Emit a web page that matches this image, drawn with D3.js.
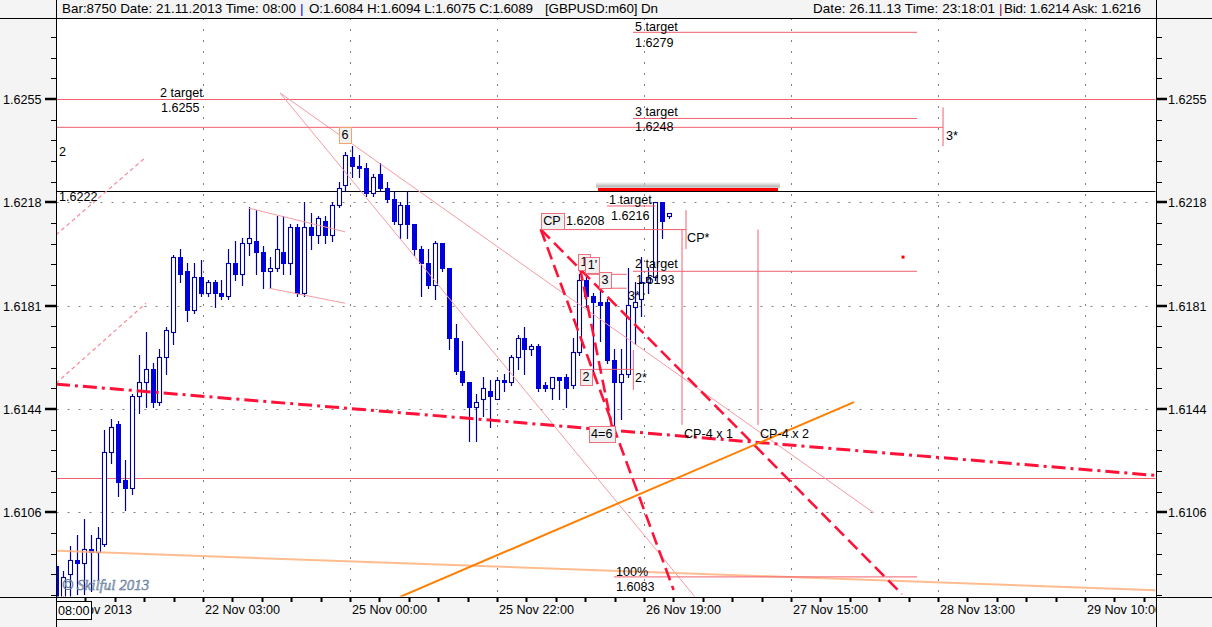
<!DOCTYPE html>
<html><head><meta charset="utf-8">
<script src="https://cdn.jsdelivr.net/npm/d3@7/dist/d3.min.js"></script>
<style>
html,body{margin:0;padding:0;background:#f4f4f4;overflow:hidden}
svg{display:block}
text{font-family:"Liberation Sans",Arial,sans-serif;font-size:12.6px;fill:#000}
</style></head><body>
<svg id="chart" width="1212" height="627"></svg>
<script>
// ---------- DATA ----------
const firstBar = -2; // bar index of first candle (bar 0 = 21 Nov 2013 08:00)
const opens  = [1.6087,1.6075,1.6084,1.6089,1.6088,1.6093,1.6092,1.6095,1.6128,1.6138,1.6118,1.6115,1.6148,1.6153,1.6158,1.6146,1.6162,1.6171,1.6198,1.6193,1.6179,1.6191,1.6185,1.6189,1.6185,1.6184,1.6196,1.6192,1.6203,1.6204,1.6200,1.6193,1.6194,1.6200,1.6196,1.6209,1.6185,1.6209,1.6206,1.6211,1.6206,1.6217,1.6224,1.6234,1.6231,1.6230,1.6221,1.6228,1.6223,1.6219,1.6210,1.6217,1.6210,1.6201,1.6196,1.6188,1.6203,1.6194,1.6169,1.6157,1.6153,1.6144,1.6147,1.6150,1.6147,1.6154,1.6153,1.6162,1.6169,1.6165,1.6166,1.6152,1.6151,1.6155,1.6155,1.6152,1.6164,1.6190,1.6184,1.6182,1.6182,1.6161,1.6153,1.6156,1.6180,1.6183,1.6189,1.6191,1.6218,1.6213];
const highs  = [1.6088,1.6085,1.6094,1.6098,1.6104,1.6098,1.6101,1.6136,1.6140,1.6139,1.6125,1.6149,1.6163,1.6171,1.6160,1.6165,1.6173,1.6199,1.6201,1.6196,1.6196,1.6197,1.6190,1.6190,1.6190,1.6201,1.6204,1.6205,1.6216,1.6215,1.6202,1.6198,1.6213,1.6213,1.6210,1.6210,1.6218,1.6214,1.6213,1.6213,1.6218,1.6225,1.6236,1.6238,1.6235,1.6232,1.6228,1.6232,1.6225,1.6222,1.6218,1.6222,1.6210,1.6202,1.6201,1.6204,1.6203,1.6194,1.6174,1.6168,1.6153,1.6149,1.6155,1.6154,1.6155,1.6156,1.6163,1.6170,1.6173,1.6167,1.6167,1.6153,1.6155,1.6155,1.6156,1.6169,1.6192,1.6192,1.6185,1.6186,1.6183,1.6165,1.6165,1.6194,1.6189,1.6198,1.6194,1.6218,1.6218,1.6214];
const lows   = [1.6070,1.6072,1.6075,1.6077,1.6077,1.6078,1.6082,1.6094,1.6124,1.6112,1.6107,1.6113,1.6142,1.6144,1.6144,1.6145,1.6156,1.6167,1.6189,1.6175,1.6178,1.6184,1.6184,1.6180,1.6183,1.6183,1.6190,1.6188,1.6199,1.6192,1.6187,1.6187,1.6193,1.6192,1.6192,1.6184,1.6184,1.6201,1.6203,1.6203,1.6204,1.6216,1.6222,1.6227,1.6227,1.6220,1.6220,1.6222,1.6218,1.6210,1.6205,1.6205,1.6199,1.6184,1.6187,1.6183,1.6193,1.6165,1.6156,1.6152,1.6132,1.6132,1.6141,1.6137,1.6147,1.6150,1.6152,1.6158,1.6156,1.6163,1.6150,1.6150,1.6147,1.6147,1.6144,1.6151,1.6163,1.6180,1.6157,1.6168,1.6160,1.6137,1.6140,1.6155,1.6167,1.6177,1.6185,1.6190,1.6205,1.6212];
const closes = [1.6076,1.6083,1.6089,1.6088,1.6093,1.6092,1.6097,1.6128,1.6137,1.6117,1.6115,1.6148,1.6153,1.6158,1.6146,1.6162,1.6172,1.6198,1.6192,1.6179,1.6191,1.6185,1.6189,1.6185,1.6184,1.6196,1.6192,1.6203,1.6205,1.6200,1.6193,1.6194,1.6201,1.6196,1.6209,1.6185,1.6209,1.6206,1.6212,1.6206,1.6217,1.6223,1.6235,1.6231,1.6230,1.6221,1.6227,1.6223,1.6219,1.6211,1.6217,1.6210,1.6201,1.6196,1.6188,1.6203,1.6194,1.6169,1.6157,1.6153,1.6144,1.6146,1.6151,1.6148,1.6154,1.6153,1.6162,1.6169,1.6165,1.6166,1.6151,1.6151,1.6155,1.6154,1.6151,1.6164,1.6190,1.6184,1.6182,1.6181,1.6161,1.6153,1.6156,1.6181,1.6182,1.6189,1.6191,1.6218,1.6211,1.6214];

const yTickValues = [1.6255,1.62178,1.61806,1.61434,1.61062];
const yTickLabels = ["1.6255","1.6218","1.6181","1.6144","1.6106"];
const xTickBars   = [19.32,40.67,62.02,83.3,104.65,126.0,147.35];
const xTickLabels = ["22 Nov 03:00","25 Nov 00:00","25 Nov 22:00","26 Nov 19:00","27 Nov 15:00","28 Nov 13:00","29 Nov 10:00"];
const firstDateLabel = "21 Nov 2013";
const cursorTime = "08:00";
// header pieces: [text, left x, width, colour]
const headerPieces = [
  ["Bar:8750 Date: 21.11.2013 Time: 08:00", 62, 234, "#000"],
  ["|", 300, 3, "#0000ff"],
  ["O:1.6084 H:1.6094 L:1.6075 C:1.6089", 309, 224, "#000"],
  ["[GBPUSD:m60] Dn", 545, 113, "#000"],
  ["Date: 26.11.13 Time: 23:18:01", 813, 182, "#000"],
  ["|", 999, 3, "#800040"],
  ["Bid: 1.6214 Ask: 1.6216", 1004, 137, "#000"]
];

// drawn objects, [bar1, price1, bar2, price2]
const fullLevels = [1.6255, 1.61185];
const bidLevel = 1.6222;
const targetSegs = [
  [81.77,1.6279,123.02,1.6279],[81.77,1.6248,123.02,1.6248],[-2.1,1.62448,126.8,1.62448],
  [78.0,1.62165,85.0,1.62165],[81.77,1.6193,123.02,1.6193],[68.37,1.6208,89.47,1.6208],
  [79.0,1.6083,123.02,1.6083],[88.89,1.6208,88.89,1.61377],[99.93,1.6208,99.93,1.61377],
  [89.47,1.6215,89.47,1.6201],[126.8,1.6252,126.8,1.6238],[81.82,1.61647,81.82,1.61503],
  [75.8,1.61577,81.82,1.61577],[75.24,1.61919,80.86,1.61919],[76.98,1.61869,80.86,1.61869]
];
const channelSegs = [[26.0,1.62157,39.94,1.62072],[28.9,1.61869,39.94,1.61815],[30.5,1.62572,90.78,1.60758],[30.5,1.62572,116.78,1.61060]];
const pinkDashSegs = [[-2.03,1.62061,10.99,1.62340],[-2.03,1.61527,11.04,1.61815]];
const redDashSegs = [[68.37,1.62081,87.67,1.60783],[68.37,1.62081,120.84,1.60768],[74.07,1.61942,78.87,1.61351]];
const dashDotSegs = [[-2.03,1.61524,157.73,1.61195]];
const orangeThickSegs = [[47.93,1.60758,113.87,1.61459]];
const orangeThinSegs = [[-2.03,1.60924,157.73,1.60782]];
const redBoldSegs = [[76.69,1.62224,102.83,1.62224]];
const boxLabels = [
  {t:"6",b:39.94,p:1.62420,c:"#f3a46e"},{t:"CP",b:70.01,p:1.62111},{t:"1",b:74.65,p:1.61963},
  {t:"1'",b:75.89,p:1.61954},{t:"3",b:77.70,p:1.61897},{t:"2",b:74.95,p:1.61549},{t:"4=6",b:77.23,p:1.61344}
];
const textLabels = [
  ["2 target",13.07,1.62557],["1.6255",13.22,1.62503],["2",-1.60,1.62345],["1.6222",-1.60,1.62183],
  ["1.6208",72.04,1.62097],["1 target",78.29,1.62172],["1.6216",78.58,1.62115],
  ["2 target",82.06,1.61942],["1.6193",82.21,1.61884],["3*",81.05,1.61827],["CP*",89.62,1.62035],
  ["2*",82.06,1.61531],["CP-4 x 1",89.18,1.61330],["CP-4 x 2",100.22,1.61330],
  ["5 target",82.06,1.62795],["1.6279",82.06,1.62737],["3 target",82.06,1.62489],["1.6248",82.06,1.62435],
  ["3*",127.23,1.62402],["100%",79.30,1.60833],["1.6083",79.30,1.60779]
];
const copyright = ["© Skilful 2013",-1.16,1.60783];
const markerDots = [[120.99,1.61981]];

// ---------- SCALES ----------
const L=56.5, R=1156, T=18, B=597;
const x = d3.scaleLinear().domain([-2,157.73]).range([56.2,1156]);
const y = d3.scaleLinear().domain([1.6075767,1.6284153]).range([597,18]);

const svg = d3.select("#chart");
svg.append("rect").attr("width",1212).attr("height",627).attr("fill","#f4f4f4");
svg.append("rect").attr("x",L).attr("y",T).attr("width",R-L).attr("height",B-T).attr("fill","#fff");
const defs = svg.append("defs");
defs.append("clipPath").attr("id","clip").append("rect").attr("x",L+0.5).attr("y",T+0.5).attr("width",R-L-1).attr("height",B-T-1);
const grad = defs.append("linearGradient").attr("id","shadow").attr("x1",0).attr("x2",0).attr("y1",0).attr("y2",1);
grad.append("stop").attr("offset","0%").attr("stop-color","#d8d8d8").attr("stop-opacity",0);
grad.append("stop").attr("offset","60%").attr("stop-color","#bdbdbd").attr("stop-opacity",0.8);
grad.append("stop").attr("offset","100%").attr("stop-color","#a8a8a8").attr("stop-opacity",0.9);

const g = svg.append("g").attr("clip-path","url(#clip)");

// grid
const step = xTickBars[1]-xTickBars[0];
g.selectAll(".vg").data(xTickBars).join("line")
  .attr("x1",d=>Math.round(x(d))+0.5).attr("x2",d=>Math.round(x(d))+0.5).attr("y1",T).attr("y2",B)
  .attr("stroke","#808080").attr("stroke-dasharray","2,9");
g.selectAll(".hg").data(yTickValues).join("line")
  .attr("y1",d=>Math.round(y(d))+0.5).attr("y2",d=>Math.round(y(d))+0.5).attr("x1",L).attr("x2",R)
  .attr("stroke","#808080").attr("stroke-dasharray","2,9");

function segs(data, attrs){
  const sel = g.append("g").selectAll("line").data(data).join("line")
    .attr("x1",d=>x(d[0])).attr("y1",d=>y(d[1])).attr("x2",d=>x(d[2])).attr("y2",d=>y(d[3]))
    .attr("fill","none");
  for (const k in attrs) sel.attr(k, attrs[k]);
  return sel;
}

// full horizontal levels
g.selectAll(".fl").data(fullLevels).join("line")
  .attr("x1",L).attr("x2",R).attr("y1",d=>Math.round(y(d))+0.5).attr("y2",d=>Math.round(y(d))+0.5)
  .attr("stroke","#f2606f").attr("stroke-width",1);
g.append("line").attr("x1",L).attr("x2",R).attr("y1",Math.round(y(bidLevel))+0.5).attr("y2",Math.round(y(bidLevel))+0.5)
  .attr("stroke","#000").attr("stroke-width",1);

// candles
const bars = opens.map((o,k)=>({i:firstBar+k,o,h:highs[k],l:lows[k],c:closes[k]}));
const cg = g.append("g");
bars.forEach(d=>{
  const cx = Math.round(x(d.i));
  const top = Math.round(y(Math.max(d.o,d.c))), bot = Math.round(y(Math.min(d.o,d.c)));
  cg.append("line").attr("x1",cx+0.5).attr("x2",cx+0.5).attr("y1",Math.round(y(d.h))).attr("y2",Math.round(y(d.l))+1)
    .attr("stroke","#000099").attr("stroke-width",1.2);
  if (d.c > d.o) {
    cg.append("rect").attr("x",cx-1.5).attr("y",top+0.5).attr("width",4).attr("height",Math.max(1,bot-top))
      .attr("fill","#fff").attr("stroke","#000099").attr("stroke-width",1.1);
  } else {
    cg.append("rect").attr("x",cx-2).attr("y",top).attr("width",5).attr("height",Math.max(2,bot-top+1))
      .attr("fill","#0000dd").attr("stroke","none");
  }
});

// objects
segs(channelSegs,{"stroke":"#f59aa3","stroke-width":1});
segs(pinkDashSegs,{"stroke":"#f58a98","stroke-width":1.2,"stroke-dasharray":"4,3"});
segs(orangeThinSegs,{"stroke":"#ffb07c","stroke-width":2,"opacity":0.85});
segs(targetSegs,{"stroke":"#f2606f","stroke-width":1});
segs(dashDotSegs,{"stroke":"#ff1238","stroke-width":3,"stroke-dasharray":"14,5,3,5"});
segs(redDashSegs,{"stroke":"#ff1238","stroke-width":2.6,"stroke-dasharray":"13,6"});
segs(orangeThickSegs,{"stroke":"#ff8000","stroke-width":2});
// bold red line with soft grey shadow above it
g.append("g").selectAll("rect").data(redBoldSegs).join("rect")
  .attr("x",d=>x(d[0])-2).attr("width",d=>x(d[2])-x(d[0])+4)
  .attr("y",d=>y(d[1])-8).attr("height",6).attr("fill","url(#shadow)");
segs(redBoldSegs,{"stroke":"#ff0000","stroke-width":3});
g.selectAll(".dot").data(markerDots).join("rect")
  .attr("x",d=>x(d[0])-1.5).attr("y",d=>y(d[1])-1.5).attr("width",3).attr("height",3).attr("fill","#ff0000");

// labels
const lg = g.append("g");
textLabels.forEach(d=>{
  lg.append("text").attr("x",x(d[1])).attr("y",y(d[2])).text(d[0]);
});
boxLabels.forEach(d=>{
  const bg = lg.append("g");
  const t = bg.append("text").attr("x",x(d.b)).attr("y",y(d.p)).attr("text-anchor","middle")
    .attr("dominant-baseline","central").text(d.t);
  const bb = t.node().getBBox();
  bg.insert("rect","text").attr("x",Math.round(bb.x-2.5)+0.5).attr("y",Math.round(bb.y-1)+0.5)
    .attr("width",Math.round(bb.width+5)).attr("height",Math.round(bb.height+2))
    .attr("fill","#f0f0f0").attr("stroke",d.c||"#f2707e").attr("stroke-width",1);
});
lg.append("text").attr("x",x(copyright[1])).attr("y",y(copyright[2])).text(copyright[0])
  .style("font-family","'Liberation Serif',serif").style("font-style","italic").style("font-size","15px")
  .style("fill","#a3b6cc").style("stroke","#5f7895").style("stroke-width","0.5");

// ---------- AXES / FRAME ----------
const ax = svg.append("g");
ax.append("line").attr("x1",0).attr("x2",1212).attr("y1",T+0.5).attr("y2",T+0.5).attr("stroke","#000");
ax.append("line").attr("x1",0).attr("x2",1212).attr("y1",B+0.5).attr("y2",B+0.5).attr("stroke","#000");
ax.append("line").attr("x1",L).attr("x2",L).attr("y1",0).attr("y2",627).attr("stroke","#000");
ax.append("line").attr("x1",R+0.5).attr("x2",R+0.5).attr("y1",0).attr("y2",627).attr("stroke","#000");

// y ticks
const yStep = yTickValues[0]-yTickValues[1];
const yMinor = [];
for (let v=yTickValues[0]; v<y.domain()[1]; v+=yStep/5) yMinor.push(v);
for (let v=yTickValues[0]-yStep/5; v>y.domain()[0]; v-=yStep/5) yMinor.push(v);
yMinor.forEach(v=>{
  const yy = Math.round(y(v))+0.5;
  ax.append("line").attr("x1",51).attr("x2",L).attr("y1",yy).attr("y2",yy).attr("stroke","#000");
  ax.append("line").attr("x1",R).attr("x2",R+6).attr("y1",yy).attr("y2",yy).attr("stroke","#000");
});
yTickValues.forEach((v,k)=>{
  const yy = Math.round(y(v));
  ax.append("line").attr("x1",45).attr("x2",L).attr("y1",yy).attr("y2",yy).attr("stroke","#000").attr("stroke-width",2.5);
  ax.append("line").attr("x1",R).attr("x2",R+11).attr("y1",yy).attr("y2",yy).attr("stroke","#000").attr("stroke-width",2.5);
  ax.append("text").attr("x",3).attr("y",yy+4.5).text(yTickLabels[k]);
  ax.append("text").attr("x",1168).attr("y",yy+4.5).text(yTickLabels[k]);
});

// x ticks
const xMinor = [];
for (let b=xTickBars[0]-step/5; x(b)>L+2; b-=step/5) xMinor.push(b);
for (let b=xTickBars[0]; x(b)<R-1; b+=step/5) xMinor.push(b);
xMinor.forEach(b=>{
  const xx = Math.round(x(b))+0.5;
  ax.append("line").attr("x1",xx).attr("x2",xx).attr("y1",B).attr("y2",B+5).attr("stroke","#000").attr("stroke-width",2);
});
const xl = ax.append("g");
xl.append("clipPath").attr("id","xclip").append("rect").attr("x",L).attr("y",B).attr("width",R-L).attr("height",30);
const xlab = xl.append("g").attr("clip-path","url(#xclip)");
xTickBars.forEach((b,k)=>{
  xlab.append("text").attr("x",Math.round(x(b))+2).attr("y",614).text(xTickLabels[k]);
});
// first date label, partly hidden behind the cursor time box (as in the terminal)
xlab.append("text").attr("x",L+4).attr("y",614).text(firstDateLabel);
const cb = ax.append("g");
const ct = cb.append("text").attr("x",L+1.5).attr("y",615).text(cursorTime);
const cbb = ct.node().getBBox();
cb.insert("rect","text").attr("x",L).attr("y",601.5).attr("width",Math.round(cbb.width)+3).attr("height",18)
  .attr("fill","#fff").attr("stroke","#000");

// header
headerPieces.forEach(h=>{
  svg.append("text").attr("x",h[1]).attr("y",13).attr("textLength",h[2]).attr("lengthAdjust","spacing")
    .style("font-size","13.4px").style("fill",h[3]).text(h[0]);
});
</script>
</body></html>
